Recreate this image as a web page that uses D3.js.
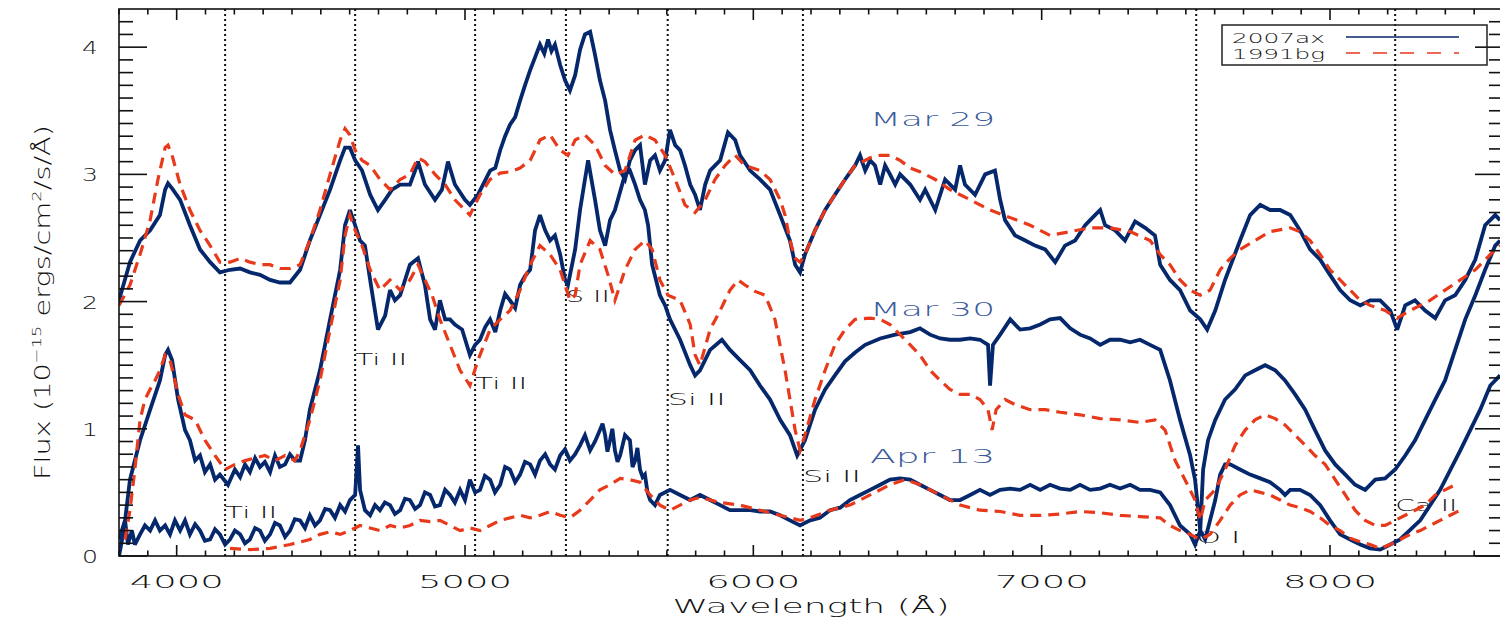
<!DOCTYPE html>
<html><head><meta charset="utf-8">
<script src="https://cdn.jsdelivr.net/npm/d3@7"></script>
<style>body{margin:0;background:#fff;} svg{display:block;}</style>
</head><body>
<svg id="chart" width="1500" height="618"></svg>
<script>
// ---------- data ----------
const xTicks = [4000, 5000, 6000, 7000, 8000];
const yTicks = [0, 1, 2, 3, 4];

const m29axWave = [3800,3838,3873,3908,3942,3960,3970,3984,4012,4046,4081,4116,4150,4185,4220,4254,4289,4324,4358,4393,4428,4462,4497,4532,4567,4584,4601,4619,4643,4671,4698,4723,4747,4775,4809,4827,4837,4861,4896,4920,4941,4965,5000,5017,5045,5087,5105,5122,5139,5156,5174,5191,5208,5226,5243,5260,5275,5288,5300,5312,5330,5347,5364,5382,5399,5416,5434,5451,5468,5486,5503,5520,5538,5555,5572,5590,5607,5624,5642,5659,5676,5694,5711,5729,5746,5763,5781,5798,5815,5833,5850,5885,5912,5937,5954,5989,6023,6058,6093,6127,6145,6162,6179,6214,6249,6283,6318,6353,6370,6388,6405,6422,6440,6457,6474,6492,6509,6544,6578,6596,6631,6665,6700,6717,6734,6769,6804,6838,6856,6873,6908,6943,6977,7012,7047,7081,7116,7151,7185,7203,7220,7255,7289,7324,7359,7393,7411,7445,7480,7515,7550,7574,7602,7636,7688,7723,7758,7792,7827,7862,7896,7931,7966,8000,8035,8070,8105,8139,8174,8209,8233,8261,8295,8330,8365,8399,8434,8469,8504,8538,8573,8590];
const m29axFlux = [2.01,2.31,2.48,2.56,2.68,2.88,2.93,2.89,2.80,2.60,2.41,2.31,2.23,2.25,2.26,2.23,2.21,2.17,2.15,2.15,2.25,2.48,2.68,2.88,3.11,3.21,3.21,3.11,3.03,2.84,2.72,2.80,2.88,2.92,2.92,3.03,3.10,2.92,2.80,2.88,3.10,2.92,2.80,2.76,2.84,3.03,3.05,3.19,3.30,3.39,3.45,3.58,3.70,3.82,3.92,4.02,3.95,4.06,3.97,4.02,3.86,3.74,3.66,3.78,3.98,4.10,4.12,3.94,3.74,3.58,3.35,3.19,3.03,2.96,3.11,3.19,3.23,2.92,3.11,3.15,3.03,3.11,3.35,3.23,3.19,3.07,2.92,2.84,2.72,2.92,3.03,3.11,3.33,3.27,3.15,3.03,2.96,2.88,2.68,2.48,2.29,2.23,2.37,2.56,2.72,2.84,2.96,3.07,3.15,3.03,3.11,3.07,2.92,3.07,3.00,2.92,3.00,2.92,2.80,2.88,2.72,2.96,2.88,3.07,2.92,2.84,3.00,3.03,2.80,2.64,2.52,2.48,2.44,2.41,2.31,2.44,2.48,2.60,2.68,2.72,2.60,2.56,2.48,2.63,2.58,2.52,2.29,2.17,2.09,1.93,1.86,1.78,1.93,2.17,2.48,2.68,2.76,2.72,2.72,2.68,2.56,2.41,2.33,2.21,2.09,2.01,1.97,2.01,2.01,1.93,1.78,1.97,2.01,1.93,1.87,2.01,2.05,2.17,2.33,2.60,2.68,2.64];

const m29bgWave = [3800,3838,3873,3908,3935,3960,3970,3984,4012,4046,4081,4116,4150,4185,4220,4254,4289,4324,4358,4393,4428,4462,4497,4532,4567,4584,4601,4619,4643,4671,4705,4740,4775,4809,4837,4861,4896,4931,4965,5000,5017,5052,5087,5122,5156,5191,5226,5260,5295,5330,5357,5382,5416,5451,5486,5520,5555,5590,5624,5659,5694,5729,5763,5798,5833,5867,5902,5937,5971,6023,6058,6093,6110,6127,6145,6162,6179,6214,6249,6283,6318,6353,6405,6440,6474,6509,6544,6578,6631,6682,6752,6821,6891,6960,7029,7099,7168,7237,7307,7376,7411,7445,7480,7515,7550,7584,7619,7654,7688,7740,7792,7862,7896,7931,7966,8000,8035,8070,8105,8139,8191,8233,8278,8313,8347,8399,8452,8504,8556,8590];
const m29bgFlux = [1.97,2.13,2.37,2.64,2.96,3.21,3.23,3.15,2.92,2.72,2.56,2.44,2.31,2.31,2.34,2.31,2.29,2.29,2.26,2.26,2.29,2.48,2.72,3.00,3.27,3.36,3.31,3.19,3.11,3.07,2.96,2.88,2.96,3.00,3.13,3.10,3.00,2.92,2.80,2.72,2.68,2.84,2.96,3.01,3.02,3.05,3.11,3.27,3.31,3.19,3.15,3.27,3.31,3.23,3.07,3.00,3.03,3.27,3.31,3.27,3.15,2.96,2.76,2.70,2.80,2.96,3.07,3.15,3.07,3.03,2.96,2.80,2.68,2.48,2.34,2.31,2.37,2.56,2.72,2.84,2.96,3.07,3.13,3.15,3.15,3.11,3.05,3.02,2.96,2.88,2.80,2.72,2.66,2.60,2.52,2.55,2.58,2.58,2.55,2.48,2.37,2.29,2.17,2.09,2.05,2.09,2.25,2.34,2.41,2.48,2.55,2.58,2.55,2.48,2.37,2.25,2.17,2.09,2.01,1.97,1.93,1.87,1.93,1.97,2.01,2.09,2.17,2.25,2.37,2.44];

const m30axWave = [3800,3821,3838,3873,3908,3942,3960,3970,3984,4005,4029,4046,4064,4081,4098,4116,4133,4150,4178,4202,4220,4237,4254,4272,4289,4306,4324,4341,4358,4376,4393,4410,4428,4445,4462,4497,4532,4567,4584,4601,4619,4636,4653,4671,4698,4723,4740,4757,4775,4792,4809,4837,4861,4879,4896,4913,4931,4948,4965,4990,5017,5035,5052,5070,5087,5105,5122,5139,5156,5174,5191,5208,5226,5243,5260,5278,5295,5312,5330,5347,5357,5382,5399,5416,5427,5451,5468,5486,5503,5520,5555,5572,5590,5607,5624,5635,5649,5676,5694,5711,5746,5781,5798,5815,5850,5891,5919,5954,5989,6023,6058,6093,6127,6152,6179,6214,6249,6283,6318,6353,6388,6440,6492,6544,6578,6613,6648,6682,6717,6752,6786,6814,6821,6831,6856,6891,6925,6960,6995,7029,7064,7099,7133,7168,7203,7237,7272,7307,7341,7376,7411,7445,7480,7515,7532,7550,7560,7577,7602,7636,7671,7706,7740,7775,7810,7844,7879,7914,7948,7983,8018,8053,8087,8122,8157,8191,8226,8261,8295,8330,8365,8399,8434,8469,8504,8538,8573,8590];
const m30axFlux = [0.13,0.28,0.60,0.91,1.15,1.38,1.58,1.62,1.54,1.23,0.99,0.91,0.75,0.79,0.66,0.72,0.60,0.64,0.56,0.68,0.62,0.72,0.66,0.77,0.70,0.74,0.66,0.79,0.70,0.72,0.80,0.75,0.75,0.91,1.15,1.46,1.86,2.25,2.60,2.72,2.60,2.48,2.44,2.17,1.78,1.89,2.09,2.01,2.05,2.17,2.29,2.34,2.13,1.86,1.78,2.01,1.86,1.86,1.82,1.78,1.58,1.66,1.70,1.80,1.86,1.76,1.93,2.06,2.01,1.95,2.13,2.20,2.25,2.56,2.68,2.56,2.48,2.52,2.37,2.17,2.13,2.41,2.72,2.96,3.11,2.80,2.56,2.44,2.64,2.72,3.00,3.03,2.92,2.80,2.72,2.60,2.29,2.05,1.97,1.86,1.70,1.50,1.42,1.46,1.62,1.70,1.62,1.54,1.46,1.34,1.23,1.07,0.95,0.79,0.91,1.15,1.31,1.42,1.53,1.60,1.66,1.71,1.74,1.76,1.79,1.74,1.71,1.70,1.70,1.71,1.70,1.66,1.34,1.66,1.74,1.86,1.78,1.79,1.82,1.86,1.87,1.79,1.74,1.71,1.66,1.70,1.70,1.68,1.70,1.66,1.62,1.38,1.07,0.79,0.60,0.20,0.68,0.91,1.07,1.23,1.31,1.42,1.46,1.50,1.46,1.38,1.27,1.15,0.99,0.83,0.72,0.64,0.56,0.52,0.60,0.61,0.68,0.79,0.91,1.07,1.23,1.38,1.62,1.86,2.05,2.25,2.44,2.48];

const m30bgWave = [3821,3838,3855,3873,3890,3908,3925,3942,3960,3977,4005,4029,4064,4098,4133,4168,4202,4237,4272,4306,4341,4376,4410,4428,4462,4497,4532,4567,4584,4601,4619,4643,4671,4705,4740,4775,4809,4837,4861,4886,4913,4948,4983,5017,5045,5087,5122,5156,5191,5226,5260,5295,5330,5347,5364,5382,5399,5434,5468,5496,5520,5555,5590,5624,5649,5676,5704,5746,5781,5798,5815,5850,5885,5919,5947,5971,6006,6041,6075,6110,6145,6162,6179,6214,6249,6283,6318,6353,6405,6440,6474,6509,6544,6578,6613,6648,6682,6717,6752,6786,6814,6828,6842,6873,6908,6960,7012,7064,7133,7203,7272,7341,7393,7428,7463,7497,7532,7550,7567,7602,7636,7671,7706,7740,7775,7810,7844,7879,7914,7948,7983,8018,8053,8087,8122,8157,8191,8226,8261,8295,8330,8365,8399,8434];
const m30bgFlux = [0.13,0.36,0.68,1.07,1.23,1.31,1.38,1.46,1.58,1.54,1.27,1.11,1.07,0.91,0.79,0.68,0.72,0.75,0.77,0.79,0.75,0.79,0.75,0.83,1.07,1.38,1.78,2.17,2.52,2.68,2.56,2.44,2.25,2.09,2.17,2.09,2.17,2.29,2.17,2.05,1.86,1.66,1.46,1.34,1.54,1.78,1.86,1.93,2.09,2.29,2.44,2.37,2.25,2.13,2.01,2.05,2.29,2.48,2.41,2.21,2.01,2.25,2.41,2.48,2.41,2.17,2.05,2.01,1.82,1.58,1.50,1.78,1.93,2.09,2.17,2.13,2.08,2.05,1.86,1.46,0.99,0.83,0.95,1.23,1.46,1.66,1.78,1.86,1.87,1.86,1.82,1.74,1.66,1.58,1.46,1.38,1.31,1.27,1.27,1.23,1.15,0.99,1.15,1.23,1.19,1.15,1.15,1.13,1.11,1.08,1.07,1.05,1.07,0.99,0.75,0.60,0.44,0.28,0.44,0.52,0.68,0.87,0.99,1.07,1.11,1.08,1.03,0.95,0.87,0.79,0.72,0.60,0.48,0.36,0.28,0.24,0.24,0.28,0.32,0.36,0.40,0.48,0.52,0.56];

const a13axWave = [3800,3811,3821,3831,3845,3855,3873,3890,3908,3925,3942,3960,3977,3994,4012,4029,4046,4064,4081,4098,4116,4133,4150,4168,4185,4202,4220,4237,4254,4272,4289,4306,4324,4341,4358,4376,4393,4410,4428,4445,4462,4480,4497,4515,4532,4549,4567,4584,4601,4619,4629,4636,4653,4671,4688,4705,4722,4740,4757,4775,4792,4809,4827,4844,4861,4879,4896,4913,4931,4948,4965,4983,5000,5017,5035,5052,5069,5087,5104,5122,5139,5156,5174,5191,5208,5226,5243,5260,5278,5295,5312,5330,5347,5364,5382,5399,5416,5434,5451,5468,5477,5486,5494,5503,5511,5520,5529,5538,5555,5572,5581,5590,5598,5607,5616,5624,5633,5642,5659,5676,5711,5746,5781,5815,5850,5885,5919,5954,5989,6023,6058,6093,6127,6162,6197,6231,6266,6301,6335,6370,6405,6440,6474,6509,6544,6578,6613,6648,6682,6717,6752,6786,6821,6856,6891,6925,6960,6995,7029,7064,7099,7133,7168,7203,7237,7272,7307,7341,7376,7411,7445,7480,7515,7532,7550,7567,7584,7602,7619,7636,7654,7688,7723,7758,7792,7827,7844,7862,7896,7931,7966,8000,8035,8070,8105,8139,8174,8209,8243,8313,8382,8452,8521,8556,8590];
const a13axFlux = [0.00,0.13,0.28,0.09,0.20,0.09,0.17,0.24,0.20,0.28,0.20,0.24,0.17,0.28,0.20,0.28,0.17,0.25,0.20,0.12,0.13,0.21,0.17,0.09,0.13,0.20,0.17,0.10,0.13,0.22,0.20,0.12,0.17,0.26,0.24,0.15,0.20,0.29,0.28,0.22,0.32,0.24,0.28,0.37,0.36,0.30,0.40,0.35,0.44,0.48,0.87,0.52,0.36,0.32,0.40,0.36,0.42,0.40,0.33,0.36,0.45,0.44,0.37,0.40,0.50,0.48,0.39,0.40,0.52,0.48,0.42,0.52,0.44,0.60,0.50,0.52,0.63,0.60,0.50,0.56,0.70,0.68,0.58,0.64,0.74,0.72,0.64,0.75,0.80,0.72,0.68,0.79,0.84,0.75,0.80,0.87,0.95,0.83,0.90,0.99,1.04,0.95,0.82,0.91,1.00,0.83,0.74,0.79,0.95,0.91,0.70,0.75,0.85,0.68,0.62,0.64,0.50,0.44,0.40,0.48,0.52,0.48,0.44,0.48,0.44,0.40,0.36,0.36,0.36,0.35,0.35,0.32,0.28,0.24,0.28,0.30,0.36,0.38,0.44,0.48,0.52,0.56,0.60,0.61,0.60,0.56,0.52,0.48,0.44,0.44,0.48,0.52,0.48,0.52,0.53,0.52,0.56,0.52,0.56,0.53,0.52,0.56,0.52,0.53,0.56,0.53,0.56,0.52,0.52,0.50,0.40,0.24,0.17,0.09,0.20,0.13,0.28,0.44,0.64,0.72,0.72,0.68,0.64,0.61,0.58,0.52,0.48,0.52,0.52,0.48,0.40,0.28,0.17,0.13,0.09,0.06,0.05,0.09,0.13,0.28,0.52,0.83,1.15,1.34,1.42];

const a13bgWave = [4185,4254,4324,4393,4462,4497,4532,4567,4601,4636,4671,4705,4740,4775,4809,4844,4879,4913,4948,4983,5017,5052,5087,5122,5156,5191,5226,5260,5295,5330,5364,5399,5434,5468,5503,5538,5572,5607,5642,5676,5711,5746,5781,5815,5850,5885,5954,6023,6093,6162,6197,6266,6335,6405,6474,6526,6578,6648,6717,6786,6856,6925,6995,7064,7133,7203,7272,7341,7411,7445,7480,7515,7550,7584,7619,7654,7688,7723,7758,7792,7827,7862,7896,7931,7966,8000,8035,8070,8105,8139,8174,8209,8243,8278,8313,8347,8382,8417,8452];
const a13bgFlux = [0.06,0.05,0.06,0.09,0.13,0.17,0.19,0.17,0.20,0.24,0.22,0.20,0.24,0.22,0.24,0.28,0.27,0.28,0.24,0.20,0.22,0.20,0.24,0.28,0.30,0.32,0.30,0.32,0.35,0.32,0.30,0.36,0.44,0.52,0.56,0.61,0.60,0.58,0.48,0.40,0.36,0.40,0.44,0.46,0.44,0.42,0.40,0.36,0.32,0.28,0.30,0.36,0.40,0.48,0.56,0.60,0.56,0.48,0.40,0.36,0.35,0.32,0.32,0.33,0.35,0.34,0.32,0.31,0.30,0.24,0.20,0.17,0.13,0.17,0.28,0.40,0.48,0.52,0.50,0.48,0.44,0.40,0.38,0.35,0.30,0.24,0.20,0.14,0.11,0.09,0.06,0.09,0.13,0.17,0.20,0.24,0.28,0.32,0.36];

const lineWaves = [4168, 4619, 5035, 5350, 5703, 6172, 7536, 8226];
const ionNames = ["Ti II", "Ti II", "Ti II", "S II", "Si II", "Si II", "O I", "Ca II"];
const ionWave  = [4168, 4619, 5035, 5350, 5703, 6172, 7536, 8226];
const ionFlux  = [0.30, 1.50, 1.31, 2.00, 1.19, 0.58, 0.10, 0.35];
const ionWidth = [52, 52, 52, 44, 58, 58, 44, 62];

const epochNames = ["Mar 29", "Mar 30", "Apr 13"];
const epochWave  = [6405, 6405, 6405];
const epochFlux  = [3.38, 1.89, 0.73];

const legendNames = ["2007ax", "1991bg"];

// ---------- drawing ----------
const BLUE = "#05276b", RED = "#e8391b";
const svg = d3.select("#chart");
const L = 119, R = 1503, T = 9, B = 556;
const x = d3.scaleLinear().domain([3800, 8600]).range([L, R]);
const y = d3.scaleLinear().domain([0, 4.3]).range([B, T]);

function stext(g, str, px, py, size, width, anchor, fill) {
  return g.append("text").attr("x", px).attr("y", py)
    .attr("font-family", "DejaVu Sans, sans-serif").attr("font-weight", 300)
    .attr("font-size", size).attr("fill", fill || "#111")
    .attr("text-anchor", anchor || "start")
    .attr("textLength", width).attr("lengthAdjust", "spacingAndGlyphs")
    .text(str);
}

const plot = svg.append("g");
plot.append("clipPath").attr("id", "clip").append("rect")
  .attr("x", L).attr("y", T).attr("width", R - L).attr("height", B - T);

// dotted vertical lines
plot.selectAll("line.ion").data(lineWaves).enter().append("line")
  .attr("x1", d => x(d)).attr("x2", d => x(d)).attr("y1", T).attr("y2", B)
  .attr("stroke", "#111").attr("stroke-width", 2).attr("stroke-dasharray", "2,3");

// ion labels (under the curves)
ionNames.forEach((n, i) => stext(plot, n, x(ionWave[i]), y(ionFlux[i]), 15, ionWidth[i], "start"));

const lineGen = d3.line().x(d => x(d[0])).y(d => y(d[1]));
const zip = (a, b) => a.map((v, i) => [v, b[i]]);

const curves = plot.append("g").attr("clip-path", "url(#clip)");
[[m29axWave, m29axFlux], [m30axWave, m30axFlux], [a13axWave, a13axFlux]].forEach(([w, f]) => {
  curves.append("path").attr("d", lineGen(zip(w, f))).attr("fill", "none")
    .attr("stroke", BLUE).attr("stroke-width", 3.8).attr("stroke-linejoin", "miter")
    .attr("stroke-miterlimit", 3);
});
[[m29bgWave, m29bgFlux], [m30bgWave, m30bgFlux], [a13bgWave, a13bgFlux]].forEach(([w, f]) => {
  curves.append("path").attr("d", lineGen(zip(w, f))).attr("fill", "none")
    .attr("stroke", RED).attr("stroke-width", 3.2).attr("stroke-dasharray", "11,7");
});

// frame
svg.append("rect").attr("x", L).attr("y", T).attr("width", R - L).attr("height", B - T)
  .attr("fill", "none").attr("stroke", "#111").attr("stroke-width", 1.6);

// ticks
const ax = svg.append("g");
const xMinor = d3.range(3800, 8601, 100);
xMinor.forEach(v => {
  const major = v % 1000 === 0;
  const len = major ? 11 : 5.5;
  ax.append("line").attr("x1", x(v)).attr("x2", x(v)).attr("y1", B).attr("y2", B - len)
    .attr("stroke", "#111").attr("stroke-width", 1.6);
  ax.append("line").attr("x1", x(v)).attr("x2", x(v)).attr("y1", T).attr("y2", T + len)
    .attr("stroke", "#111").attr("stroke-width", 1.6);
});
const yMinor = d3.range(0, 43).map(i => i / 10);
yMinor.forEach((v, i) => {
  const major = i % 10 === 0;
  const len = major ? 28 : 14;
  ax.append("line").attr("x1", L).attr("x2", L + len).attr("y1", y(v)).attr("y2", y(v))
    .attr("stroke", "#111").attr("stroke-width", 1.6);
  ax.append("line").attr("x1", R).attr("x2", R - len).attr("y1", y(v)).attr("y2", y(v))
    .attr("stroke", "#111").attr("stroke-width", 1.6);
});

// tick labels
xTicks.forEach(v => stext(svg, String(v), x(v), 588, 18, 94, "middle"));
yTicks.forEach(v => stext(svg, String(v), 98, y(v) + 7, 18, 16, "end"));

// axis titles
stext(svg, "Wavelength (Å)", (L + R) / 2, 613, 20, 277, "middle");
const yt = svg.append("text").attr("transform", "translate(50," + ((T + B) / 2 + 20) + ") rotate(-90)")
  .attr("font-family", "DejaVu Sans, sans-serif").attr("font-weight", 300)
  .attr("font-size", 21).attr("fill", "#111").attr("text-anchor", "middle")
  .attr("textLength", 355).attr("lengthAdjust", "spacingAndGlyphs");
yt.append("tspan").text("Flux (10");
yt.append("tspan").attr("dy", -9).attr("font-size", 13).text("−15");
yt.append("tspan").attr("dy", 9).text(" ergs/cm");
yt.append("tspan").attr("dy", -9).attr("font-size", 13).text("2");
yt.append("tspan").attr("dy", 9).text("/s/Å)");

// epoch labels
epochNames.forEach((n, i) => stext(svg, n, x(epochWave[i]), y(epochFlux[i]), 20, 125, "start", "#3b5a9a"));

// legend
const lg = svg.append("g");
lg.append("rect").attr("x", 1222).attr("y", 25).attr("width", 265).attr("height", 40)
  .attr("fill", "none").attr("stroke", "#222").attr("stroke-width", 1.5);
stext(lg, legendNames[0], 1232, 43, 14, 93, "start");
stext(lg, legendNames[1], 1232, 59, 14, 93, "start");
lg.append("line").attr("x1", 1346).attr("x2", 1459).attr("y1", 37).attr("y2", 37)
  .attr("stroke", BLUE).attr("stroke-width", 1.5);
lg.append("line").attr("x1", 1346).attr("x2", 1459).attr("y1", 53).attr("y2", 53)
  .attr("stroke", RED).attr("stroke-width", 1.5).attr("stroke-dasharray", "14,13");
</script>
</body></html>
